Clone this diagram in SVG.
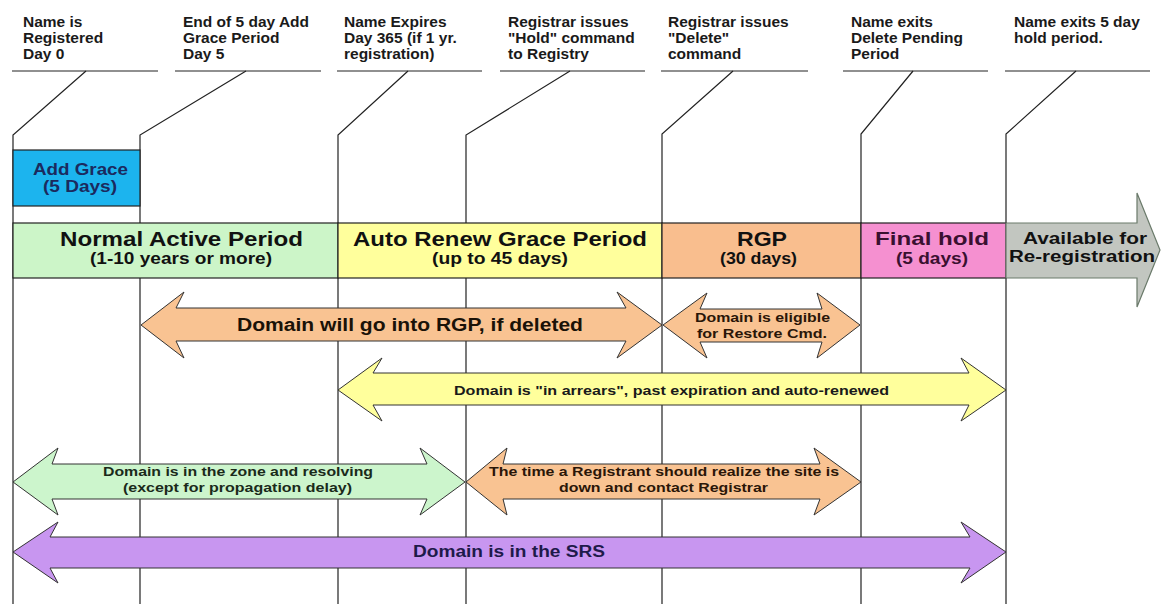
<svg xmlns="http://www.w3.org/2000/svg" width="1161" height="604" viewBox="0 0 1161 604">
<style>
.hdr{font-family:"Liberation Sans",Arial,sans-serif;font-weight:bold;font-size:15.5px;fill:#1a1a1a}
.lead{fill:none;stroke:#222;stroke-width:1.2}
.b{font-family:"Liberation Sans",Arial,sans-serif;font-weight:bold}
.cell{stroke:#222;stroke-width:1.2}
.arr{stroke:#333;stroke-width:1}
</style>
<rect width="1161" height="604" fill="#ffffff"/>

<g id="markers">
  <g id="m-registered">
    <text class="hdr" x="23" y="27">Name is</text>
    <text class="hdr" x="23" y="43">Registered</text>
    <text class="hdr" x="23" y="59">Day 0</text>
    <line class="lead" x1="12" y1="71" x2="158" y2="71"/>
    <polyline class="lead" points="86,71 13,135 13,604"/>
  </g>
  <g id="m-addgrace-end">
    <text class="hdr" x="183" y="27">End of 5 day Add</text>
    <text class="hdr" x="183" y="43">Grace Period</text>
    <text class="hdr" x="183" y="59">Day 5</text>
    <line class="lead" x1="175" y1="71" x2="321" y2="71"/>
    <polyline class="lead" points="246,71 140,135 140,604"/>
  </g>
  <g id="m-expires">
    <text class="hdr" x="344" y="27">Name Expires</text>
    <text class="hdr" x="344" y="43">Day 365 (if 1 yr.</text>
    <text class="hdr" x="344" y="59">registration)</text>
    <line class="lead" x1="337" y1="71" x2="482" y2="71"/>
    <polyline class="lead" points="408,71 338,135 338,604"/>
  </g>
  <g id="m-hold">
    <text class="hdr" x="508" y="27">Registrar issues</text>
    <text class="hdr" x="508" y="43">"Hold" command</text>
    <text class="hdr" x="508" y="59">to Registry</text>
    <line class="lead" x1="500" y1="71" x2="645" y2="71"/>
    <polyline class="lead" points="570,71 466,135 466,604"/>
  </g>
  <g id="m-delete">
    <text class="hdr" x="668" y="27">Registrar issues</text>
    <text class="hdr" x="668" y="43">"Delete"</text>
    <text class="hdr" x="668" y="59">command</text>
    <line class="lead" x1="661" y1="71" x2="808" y2="71"/>
    <polyline class="lead" points="733,71 662,134 662,604"/>
  </g>
  <g id="m-exit-pending">
    <text class="hdr" x="851" y="27">Name exits</text>
    <text class="hdr" x="851" y="43">Delete Pending</text>
    <text class="hdr" x="851" y="59">Period</text>
    <line class="lead" x1="843" y1="71" x2="988" y2="71"/>
    <polyline class="lead" points="913,71 861,134 861,604"/>
  </g>
  <g id="m-exit-hold">
    <text class="hdr" x="1014" y="27">Name exits 5 day</text>
    <text class="hdr" x="1014" y="43">hold period.</text>
    <line class="lead" x1="1005" y1="71" x2="1150" y2="71"/>
    <polyline class="lead" points="1076,71 1006,134 1006,604"/>
  </g>
</g>

<g id="add-grace">
  <rect class="cell" x="13" y="150" width="127" height="56" fill="#1cb4ee"/>
  <text class="b" x="33" y="175" font-size="16" fill="#1b2a5e" textLength="95" lengthAdjust="spacingAndGlyphs">Add Grace</text>
  <text class="b" x="43" y="192" font-size="16" fill="#1b2a5e" textLength="74" lengthAdjust="spacingAndGlyphs">(5 Days)</text>
</g>

<g id="normal-active">
  <rect class="cell" x="13" y="223" width="325" height="55" fill="#ccf5c8"/>
  <text class="b" x="60" y="246" font-size="19.5" fill="#111" textLength="243" lengthAdjust="spacingAndGlyphs">Normal Active Period</text>
  <text class="b" x="90" y="264" font-size="16" fill="#111" textLength="182" lengthAdjust="spacingAndGlyphs">(1-10 years or more)</text>
</g>
<g id="auto-renew">
  <rect class="cell" x="338" y="223" width="324" height="55" fill="#ffff9c"/>
  <text class="b" x="353" y="246" font-size="19.5" fill="#111" textLength="294" lengthAdjust="spacingAndGlyphs">Auto Renew Grace Period</text>
  <text class="b" x="432" y="264" font-size="16" fill="#111" textLength="136" lengthAdjust="spacingAndGlyphs">(up to 45 days)</text>
</g>
<g id="rgp">
  <rect class="cell" x="662" y="223" width="199" height="55" fill="#f9be8e"/>
  <text class="b" x="737" y="246" font-size="19.5" fill="#111" textLength="50" lengthAdjust="spacingAndGlyphs">RGP</text>
  <text class="b" x="720" y="264" font-size="16" fill="#111" textLength="77" lengthAdjust="spacingAndGlyphs">(30 days)</text>
</g>
<g id="final-hold">
  <rect class="cell" x="861" y="223" width="145" height="55" fill="#f590d0"/>
  <text class="b" x="875" y="245" font-size="19" fill="#3a1030" textLength="114" lengthAdjust="spacingAndGlyphs">Final hold</text>
  <text class="b" x="896" y="264" font-size="16" fill="#3a1030" textLength="72" lengthAdjust="spacingAndGlyphs">(5 days)</text>
</g>
<g id="available">
  <polygon points="1006,223 1137,223 1137,193 1160,250 1137,307 1137,278 1006,278" fill="#c2c6c0" stroke="#6a7a6a" stroke-width="1.2"/>
  <text class="b" x="1023" y="244" font-size="16" fill="#111" textLength="124" lengthAdjust="spacingAndGlyphs">Available for</text>
  <text class="b" x="1009" y="262" font-size="16" fill="#111" textLength="146" lengthAdjust="spacingAndGlyphs">Re-registration</text>
</g>

<g id="connectors">
  <g id="a-rgp-if-deleted">
    <polygon class="arr" fill="#f9c392" points="141,325 184,292 176,308 626,308 617,292 662,325 617,358 626,341 176,341 184,358"/>
    <text class="b" x="237" y="331" font-size="18" fill="#1a1208" textLength="346" lengthAdjust="spacingAndGlyphs">Domain will go into RGP, if deleted</text>
  </g>
  <g id="a-restore">
    <polygon class="arr" fill="#f9c392" points="663,325 707,293 700,309 822,309 817,293 860,325 817,358 822,342 700,342 707,358"/>
    <text class="b" x="695" y="322" font-size="13" fill="#2a1608" textLength="135" lengthAdjust="spacingAndGlyphs">Domain is eligible</text>
    <text class="b" x="697" y="338" font-size="13" fill="#2a1608" textLength="130" lengthAdjust="spacingAndGlyphs">for Restore Cmd.</text>
  </g>
  <g id="a-arrears">
    <polygon class="arr" fill="#ffff9c" points="338,390 382,358 373,373 969,373 961,358 1006,390 961,421 969,405 373,405 382,421"/>
    <text class="b" x="454" y="395" font-size="13.5" fill="#1a1a1a" textLength="435" lengthAdjust="spacingAndGlyphs">Domain is "in arrears", past expiration and auto-renewed</text>
  </g>
  <g id="a-zone">
    <polygon class="arr" fill="#ccf5cc" points="13,482 58,448 52,464 427,464 420,448 465,482 420,515 427,499 52,499 58,515"/>
    <text class="b" x="103" y="476" font-size="13" fill="#1a2a1a" textLength="270" lengthAdjust="spacingAndGlyphs">Domain is in the zone and resolving</text>
    <text class="b" x="123" y="492" font-size="13" fill="#1a2a1a" textLength="229" lengthAdjust="spacingAndGlyphs">(except for propagation delay)</text>
  </g>
  <g id="a-realize">
    <polygon class="arr" fill="#f9c392" points="466,482 507,448 503,464 820,464 814,448 861,482 814,515 820,499 503,499 507,515"/>
    <text class="b" x="489" y="476" font-size="13" fill="#2a1608" textLength="350" lengthAdjust="spacingAndGlyphs">The time a Registrant should realize the site is</text>
    <text class="b" x="559" y="492" font-size="13" fill="#2a1608" textLength="209" lengthAdjust="spacingAndGlyphs">down and contact Registrar</text>
  </g>
  <g id="a-srs">
    <polygon class="arr" fill="#c896f0" points="13,552 58,522 50,537 970,537 961,522 1006,552 961,583 970,568 50,568 58,583"/>
    <text class="b" x="413" y="557" font-size="16" fill="#1e1a4a" textLength="192" lengthAdjust="spacingAndGlyphs">Domain is in the SRS</text>
  </g>
</g>
</svg>
